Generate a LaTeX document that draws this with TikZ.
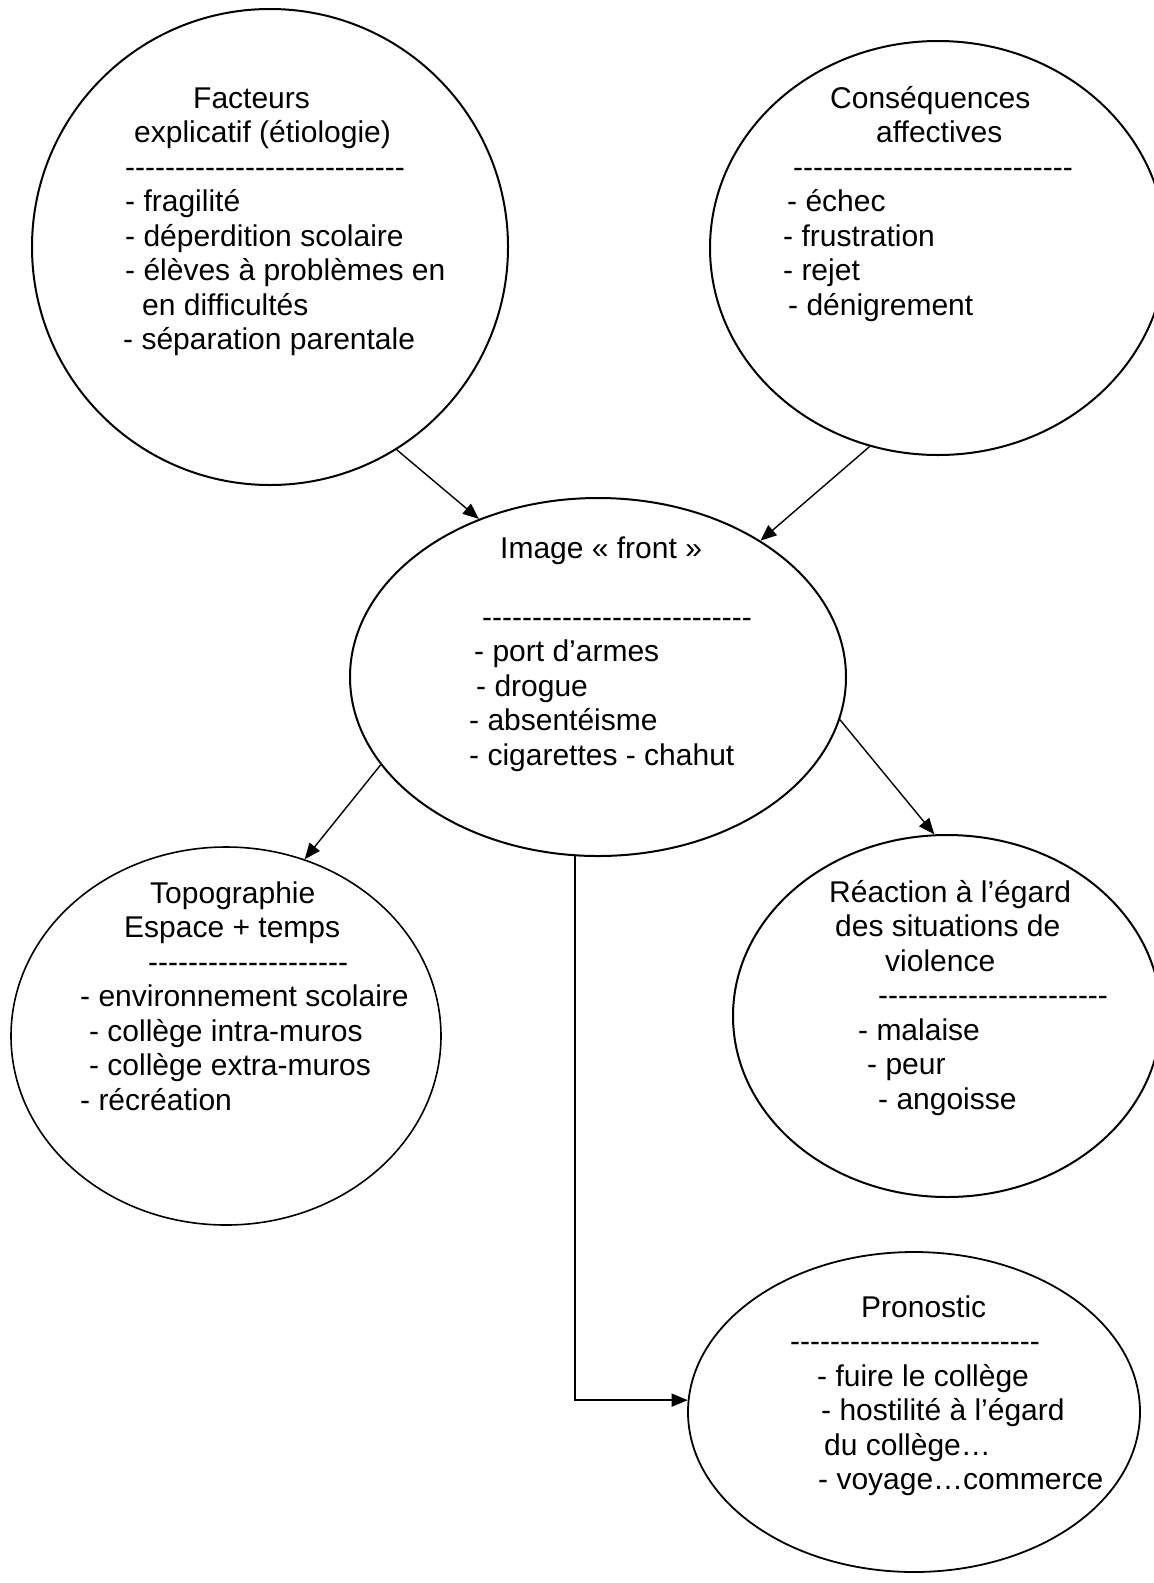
\documentclass[tikz,border=0pt]{standalone}
\usepackage{fontspec}
\setmainfont{Liberation Sans}
\usetikzlibrary{shapes.geometric,arrows.meta}
\ExplSyntaxOn
\cs_new:Npn \dashrow #1 { \prg_replicate:nn {#1} { -\kern0pt } }
\ExplSyntaxOff
\newcommand\txtblock[1]{\parbox[t]{440pt}{\raggedright #1}}
\begin{document}
\begin{tikzpicture}[x=1pt,y=-1pt,
  ell/.style={draw, ellipse, line width=2pt, inner sep=0pt},
  arr/.style={-{Triangle[length=16pt,width=13pt]}, line width=1.4pt},
  txt/.style={anchor=base west, inner sep=0pt, font=\fontsize{30}{34.5}\selectfont}]
\fill[white] (0,0) rectangle (1154,1583);
\useasboundingbox (0,0) rectangle (1154,1583);

% ellipses
\node[ell, minimum width=476pt, minimum height=476pt] (e1) at (270,247) {};
\node[ell, minimum width=456pt, minimum height=414pt] (e2) at (938,248) {};
\node[ell, minimum width=496pt, minimum height=358pt] (e3) at (598,677) {};
\node[ell, line width=1.6pt, minimum width=430pt, minimum height=378pt] (e4) at (226,1036) {};
\node[ell, minimum width=428pt, minimum height=362pt] (e5) at (947,1016) {};
\node[ell, line width=1.8pt, minimum width=452pt, minimum height=320pt] (e6) at (914,1412) {};

% texts
\node[txt] (t1) at (123,108) {\txtblock{%
\hspace*{70pt}Facteurs\\
\hspace*{11pt}explicatif (étiologie)\\
\hspace*{2pt}\dashrow{28}\\
\hspace*{2pt}- fragilité\\
\hspace*{2pt}- déperdition scolaire\\
\hspace*{2pt}- élèves à problèmes en\\
\hspace*{19pt}en difficultés\\
- séparation parentale}};

\node[txt] (t2) at (783,108) {\txtblock{%
\hspace*{47pt}Conséquences\\
\hspace*{93pt}affectives\\
\hspace*{10pt}\dashrow{28}\\
\hspace*{4pt}- échec\\
- frustration\\
- rejet\\
\hspace*{5pt}- dénigrement}};

\node[txt] (t3) at (469,558) {\txtblock{%
\hspace*{31pt}Image « front »\\[34.5pt]
\hspace*{13pt}\dashrow{27}\\
\hspace*{5pt}- port d’armes\\
\hspace*{7pt}- drogue\\
- absentéisme\\
- cigarettes - chahut}};

\node[txt] (t4) at (80,903) {\txtblock{%
\hspace*{70pt}Topographie\\
\hspace*{44pt}Espace + temps\\
\hspace*{68pt}\dashrow{20}\\
- environnement scolaire\\
\hspace*{9pt}- collège intra-muros\\
\hspace*{9pt}- collège extra-muros\\
- récréation}};

\node[txt] (t5) at (829,902) {\txtblock{%
Réaction à l’égard\\
\hspace*{6pt}des situations de\\
\hspace*{56pt}violence\\
\hspace*{49pt}\dashrow{23}\\
\hspace*{29pt}- malaise\\
\hspace*{38pt}- peur\\
\hspace*{49pt}- angoisse}};

\node[txt] (t6) at (790,1317) {\txtblock{%
\hspace*{71pt}Pronostic\\
\dashrow{25}\\
\hspace*{27pt}- fuire le collège\\
\hspace*{31pt}- hostilité à l’égard\\
\hspace*{34pt}du collège…\\
\hspace*{28pt}- voyage…commerce}};

% connectors
\draw[arr] (e1.-58) -- (e3.127);
\draw[arr] (e2.-109) -- (e3.40);
\draw[arr] (e3.202) -- (e4.66);
\draw[arr] (e3.-10) -- (e5.94);
\coordinate (vx) at (575,0);
\draw[arr] (e3.263 -| vx) |- (e6.177);
\end{tikzpicture}
\end{document}
